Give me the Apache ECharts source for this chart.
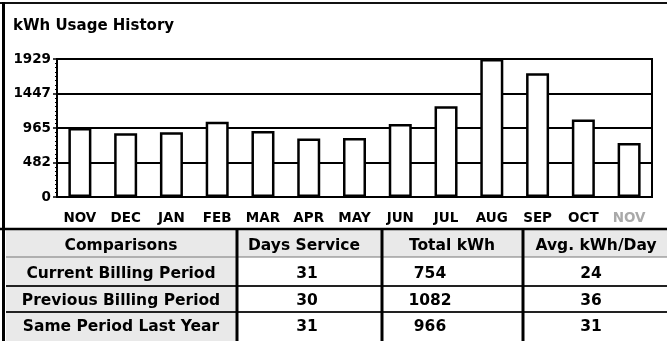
<!DOCTYPE html>
<html>
<head>
<meta charset="utf-8">
<title>kWh Usage History</title>
<script src="https://cdn.jsdelivr.net/npm/echarts@6/dist/echarts.min.js"></script>
<style>
  html, body { margin: 0; padding: 0; background: #fff; }
  #chart { width: 667px; height: 341px; }
</style>
</head>
<body>
<div id="chart"></div>
<script>
// Monthly usage (kWh), last 13 billing months
const months = ['NOV', 'DEC', 'JAN', 'FEB', 'MAR', 'APR', 'MAY', 'JUN', 'JUL', 'AUG', 'SEP', 'OCT', 'NOV'];
const kwhUsage = [966, 890, 905, 1053, 923, 818, 825, 1020, 1268, 1929, 1729, 1082, 754];
const yTickLabels = ['0', '482', '965', '1447', '1929'];

// Comparison table
const tableHeader = ['Comparisons', 'Days Service', 'Total kWh', 'Avg. kWh/Day'];
const periods = ['Current Billing Period', 'Previous Billing Period', 'Same Period Last Year'];
const daysService = [31, 30, 31];
const totalKwh = [754, 1082, 966];
const avgKwhDay = [24, 36, 31];

const FONT = '"DejaVu Sans", "Liberation Sans", Arial, sans-serif';
const yMax = 1929;

// Table layout
const colEdges = [6, 237, 382, 523, 667];
const headerCenters = [121, 304, 452, 596];
const valueCenters = [121, 307, 430, 591];
const tableTop = 229;
const headerY = 246;
const rowY = [273.5, 301, 326.5];
const rowLines = [257, 286, 312];

const chart = echarts.init(document.getElementById('chart'), null, { renderer: 'canvas' });

const graphics = [];

// Shaded header row and label column
graphics.push({
  type: 'rect', z: 0,
  shape: { x: colEdges[0], y: tableTop, width: colEdges[4] - colEdges[0], height: rowLines[0] - tableTop },
  style: { fill: '#e9e9e9' }
});
graphics.push({
  type: 'rect', z: 0,
  shape: { x: colEdges[0], y: rowLines[0], width: colEdges[1] - colEdges[0], height: 341 - rowLines[0] },
  style: { fill: '#e9e9e9' }
});

// Frame lines
graphics.push({ type: 'line', z: 5, shape: { x1: 0, y1: 3, x2: 667, y2: 3 }, style: { stroke: '#111', lineWidth: 2 } });
graphics.push({ type: 'line', z: 5, shape: { x1: 3.5, y1: 2, x2: 3.5, y2: 341 }, style: { stroke: '#000', lineWidth: 3 } });
graphics.push({ type: 'line', z: 5, shape: { x1: 0, y1: tableTop, x2: 667, y2: tableTop }, style: { stroke: '#000', lineWidth: 2.5 } });

// Row separators
rowLines.forEach(function (y, i) {
  graphics.push({
    type: 'line', z: 5,
    shape: { x1: colEdges[0], y1: y, x2: 667, y2: y },
    style: { stroke: i === 0 ? '#777' : '#222', lineWidth: i === 0 ? 1.2 : 2 }
  });
});

// Column separators
for (let c = 1; c < colEdges.length - 1; c++) {
  graphics.push({
    type: 'line', z: 5,
    shape: { x1: colEdges[c], y1: tableTop, x2: colEdges[c], y2: 341 },
    style: { stroke: '#000', lineWidth: 3 }
  });
}

function cellText(text, x, y) {
  return {
    type: 'text', z: 10,
    style: {
      text: String(text), x: x, y: y,
      font: 'bold 15.5px ' + FONT,
      fill: '#000', textAlign: 'center', textVerticalAlign: 'middle'
    }
  };
}

tableHeader.forEach(function (h, c) {
  graphics.push(cellText(h, headerCenters[c], headerY));
});
periods.forEach(function (p, r) {
  graphics.push(cellText(p, valueCenters[0], rowY[r]));
  graphics.push(cellText(daysService[r], valueCenters[1], rowY[r]));
  graphics.push(cellText(totalKwh[r], valueCenters[2], rowY[r]));
  graphics.push(cellText(avgKwhDay[r], valueCenters[3], rowY[r]));
});

// Title
graphics.push({
  type: 'text', z: 10,
  style: {
    text: 'kWh Usage History', x: 13, y: 26,
    font: 'bold 15px ' + FONT, fill: '#000', textVerticalAlign: 'middle'
  }
});

const option = {
  animation: false,
  backgroundColor: '#fff',
  grid: {
    left: 57, right: 15, top: 59, bottom: 144,
    show: true, borderColor: '#000', borderWidth: 2, backgroundColor: 'transparent'
  },
  xAxis: {
    type: 'category',
    data: months.map(function (m, i) {
      return i === months.length - 1 ? { value: m, textStyle: { color: '#a9a9a9' } } : m;
    }),
    boundaryGap: true,
    axisLine: { lineStyle: { color: '#000', width: 2 } },
    axisTick: { alignWithLabel: true, length: 6, lineStyle: { color: '#000', width: 2 } },
    axisLabel: {
      interval: 0, margin: 14,
      fontFamily: FONT, fontWeight: 'bold', fontSize: 13.5, color: '#000'
    },
    splitLine: { show: false }
  },
  yAxis: {
    type: 'value',
    min: 0, max: yMax, interval: yMax / 4,
    axisLine: { show: true, lineStyle: { color: '#000', width: 2 } },
    axisTick: { show: true, length: 4, lineStyle: { color: '#000', width: 1.5 } },
    minorTick: { show: true, splitNumber: 8, length: 2, lineStyle: { color: '#000', width: 1 } },
    axisLabel: {
      margin: 6,
      fontFamily: FONT, fontWeight: 'bold', fontSize: 13.5, color: '#000',
      formatter: function (v, i) { return yTickLabels[i]; }
    },
    splitLine: { show: true, lineStyle: { color: '#000', width: 2 } }
  },
  series: [{
    type: 'bar',
    data: kwhUsage,
    barWidth: 23,
    itemStyle: { color: '#fff', borderColor: '#000', borderWidth: 2.5 },
    silent: true
  }],
  graphic: graphics
};

chart.setOption(option);
</script>
</body>
</html>
